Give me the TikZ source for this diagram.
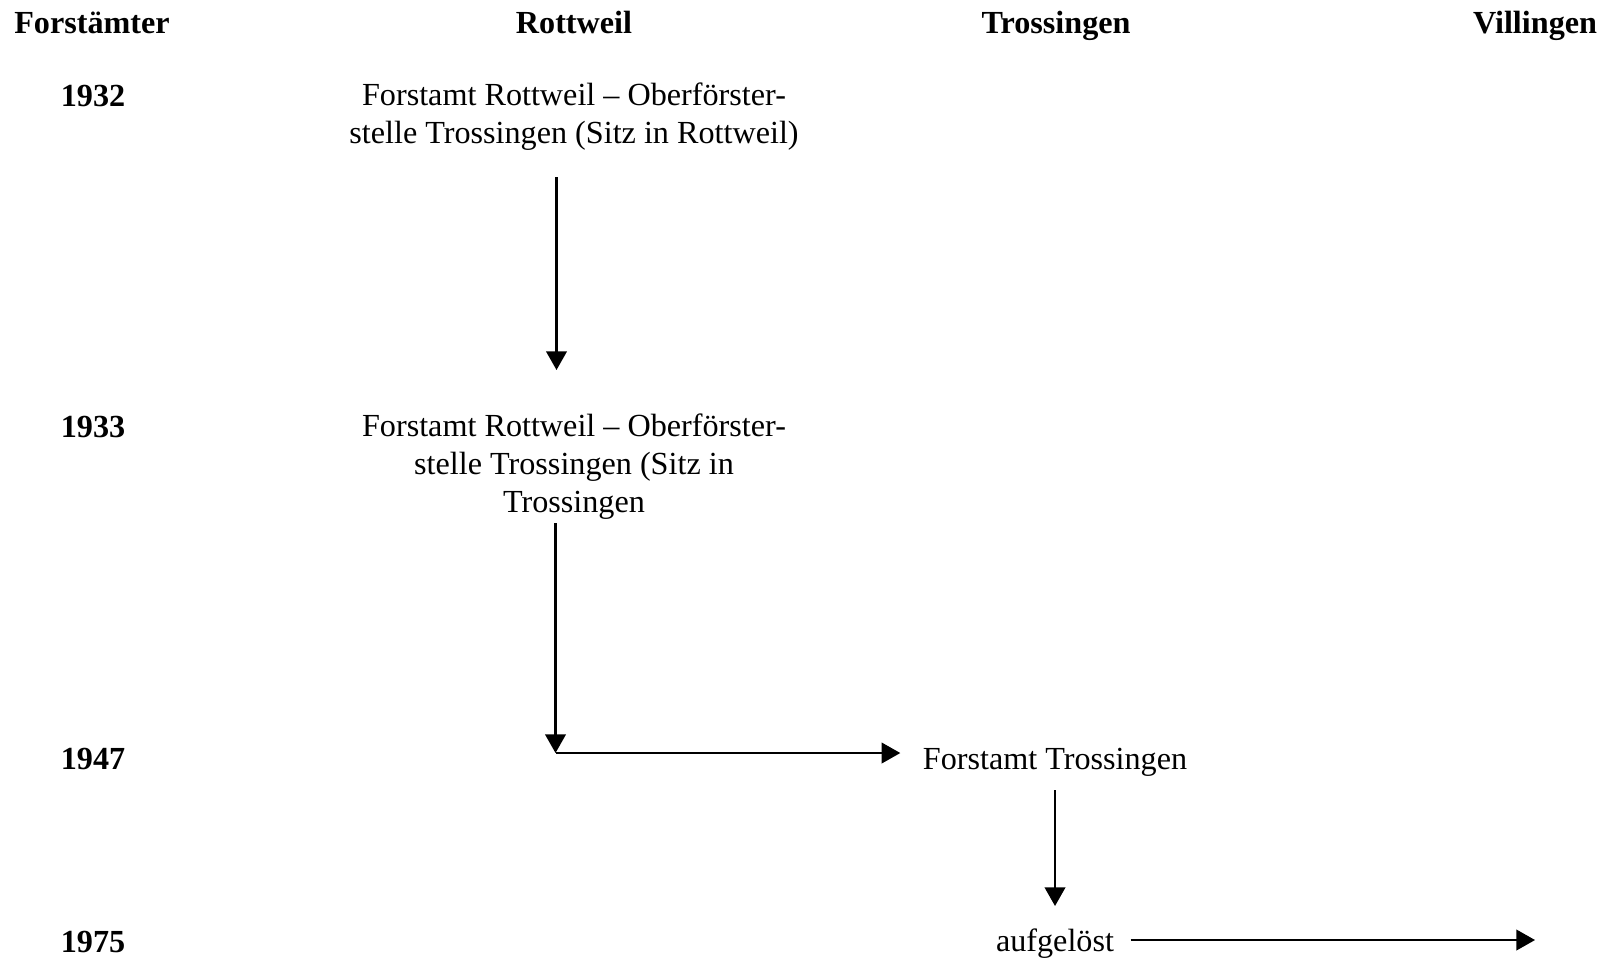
\documentclass[tikz,border=0pt]{standalone}
\usepackage{fontspec}
\setmainfont{Liberation Serif}
\usepackage{tikz}
\usetikzlibrary{positioning, calc, arrows.meta}

\tikzset{
    head/.style={font=\fontsize{11.7}{13.8}\selectfont\bfseries, inner sep=0pt, anchor=base},
    year/.style={font=\fontsize{11.7}{13.8}\selectfont\bfseries, inner sep=0pt},
    entry/.style={font=\fontsize{11.7}{13.8}\selectfont, inner sep=0pt, align=center},
    arr/.style={-{Triangle[length=6.8pt, width=7.5pt]}, line width=0.75pt}
}

\begin{document}
\begin{tikzpicture}[x=0.3636pt, y=-0.3636pt]

    \useasboundingbox (0,0) rectangle (1607,962);

    % Column headings
    \node[head] (hForst) at (92,33)   {Forstämter};
    \node[head] (hRott)  at (574,33)  {Rottweil};
    \node[head] (hTross) at (1056,33) {Trossingen};
    \node[head] (hVill)  at (1535,33) {Villingen};

    % Years
    \node[year] (y1932) at (93,96)  {1932};
    \node[year] (y1933) at (93,427) {1933};
    \node[year] (y1947) at (93,759) {1947};
    \node[year] (y1975) at (93,942) {1975};

    % Entries
    \node[entry] (r1932) at (574,117) {Forstamt Rottweil -- Oberförster-\\stelle Trossingen (Sitz in Rottweil)};
    \node[entry] (r1933) at (574,467) {Forstamt Rottweil -- Oberförster-\\stelle Trossingen (Sitz in\\Trossingen};
    \node[entry] (t1947) at (1055,762) {Forstamt Trossingen};
    \node[entry] (t1975) at (1055,944) {aufgelöst};

    % Ends of the connectors
    \coordinate (c1933) at (556.5,370);
    \coordinate (c1947) at (555.5,753);
    \coordinate (e1947) at ($(t1947.west |- c1947)+(-22,0)$);
    \coordinate (s1975) at (t1947.south |- 0,790);
    \coordinate (e1975) at (t1975.north |- 0,906);
    \coordinate (v1975) at ($(t1975.east)+(16,-4)$);

    % 1932 -> 1933
    \draw[arr] (c1933 |- 0,177) -- (c1933);

    % 1933 -> 1947, then over to Trossingen
    \draw[arr] (c1947 |- 0,523) -- (c1947);
    \draw[arr] (c1947) -- (e1947);

    % Forstamt Trossingen -> aufgeloest
    \draw[arr] (s1975) -- (e1975);

    % aufgeloest -> Villingen
    \draw[arr] (v1975) -- (hVill.center |- v1975);

\end{tikzpicture}
\end{document}
